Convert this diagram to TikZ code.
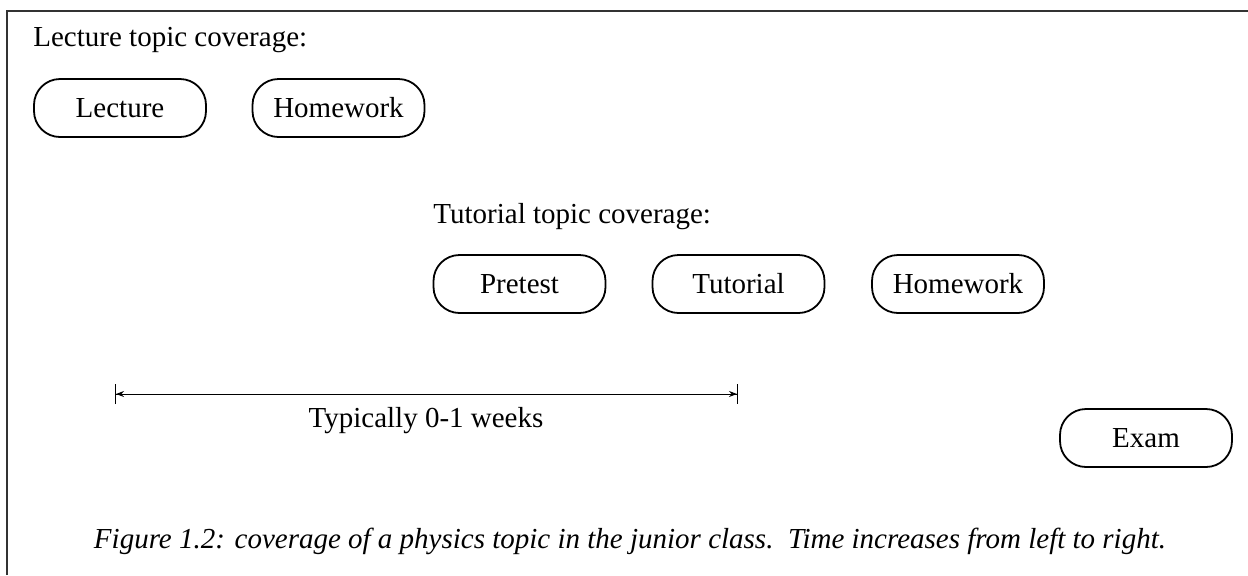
\documentclass[tikz,border=0pt]{standalone}
\usepackage{fontspec}
\setmainfont{Liberation Serif}
\usepackage{tikz}
\usetikzlibrary{arrows.meta, positioning}

\begin{document}
\begin{tikzpicture}[x=0.5pt, y=-0.5pt,
  topicbox/.style={draw, line width=0.9pt, rounded corners=13pt, minimum width=86pt, minimum height=29pt, font=\fontsize{14.5}{17}\selectfont},
  heading/.style={font=\fontsize{14.5}{17}\selectfont, anchor=west, inner sep=0pt}]
  \useasboundingbox (0,0) rectangle (1248,575);
  % frame
  \draw[line width=0.8pt, black!80] (7,575) -- (7,11) -- (1248,11);

  % Lecture topic coverage
  \node[heading] (lechead) at (33,40) {Lecture topic coverage:};
  \node[topicbox] (lecture) at (120,108) {Lecture};
  \node[topicbox] (lechw) at (338.5,108) {Homework};

  % Tutorial topic coverage
  \node[heading] (tuthead) at (433,217) {Tutorial topic coverage:};
  \node[topicbox] (pretest) at (519.5,284) {Pretest};
  \node[topicbox] (tutorial) at (738.5,284) {Tutorial};
  \node[topicbox] (tuthw) at (958,284) {Homework};
  \node[topicbox] (exam) at (1146,438) {Exam};

  % Time span
  \coordinate (spanL) at (115,394);
  \coordinate (spanR) at (738,394);
  \draw[line width=0.5pt, {Bar[width=10pt]Stealth[length=4pt,width=3pt]}-{Stealth[length=4pt,width=3pt]Bar[width=10pt]}] (spanL) -- (spanR);
  \node[font=\fontsize{14.5}{17}\selectfont] (span) at (426,421) {Typically 0-1 weeks};

  % Caption
  \node[font=\fontsize{14.5}{17}\selectfont\itshape] (caption) at (630,541) {Figure 1.2: coverage of a physics topic in the junior class.\ \ Time increases from left to right.};
\end{tikzpicture}
\end{document}
